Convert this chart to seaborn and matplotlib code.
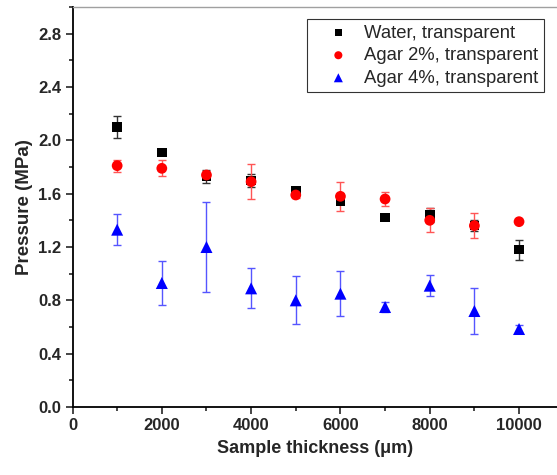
import numpy as np
import pandas as pd
import matplotlib
matplotlib.use("Agg")
import matplotlib.pyplot as plt
from matplotlib.ticker import MultipleLocator
import seaborn as sns

thickness = [1000, 2000, 3000, 4000, 5000, 6000, 7000, 8000, 9000, 10000]

water = [2.10, 1.91, 1.73, 1.70, 1.62, 1.54, 1.42, 1.44, 1.36, 1.18]
water_err = [0.08, 0.0, 0.05, 0.05, 0.03, 0.02, 0.0, 0.05, 0.04, 0.075]

agar2 = [1.81, 1.79, 1.74, 1.69, 1.59, 1.58, 1.56, 1.40, 1.36, 1.39]
agar2_err = [0.045, 0.06, 0.03, 0.13, 0.02, 0.11, 0.055, 0.09, 0.095, 0.0]

agar4 = [1.33, 0.93, 1.20, 0.89, 0.80, 0.85, 0.75, 0.91, 0.72, 0.585]
agar4_err = [0.115, 0.165, 0.34, 0.15, 0.18, 0.17, 0.04, 0.08, 0.17, 0.03]

labels = ["Water, transparent", "Agar 2%, transparent", "Agar 4%, transparent"]
yticks = [0.0, 0.4, 0.8, 1.2, 1.6, 2.0, 2.4, 2.8]

sns.set_theme(style="white")
plt.rcParams['font.family'] = ['Liberation Sans', 'DejaVu Sans']

df = pd.DataFrame({
    "x": thickness * 3,
    "y": water + agar2 + agar4,
    "err": water_err + agar2_err + agar4_err,
    "series": [labels[0]] * 10 + [labels[1]] * 10 + [labels[2]] * 10,
})

W, H = 557, 475
fig = plt.figure(figsize=(W / 100, H / 100), dpi=100)
ax = fig.add_axes([72.5 / W, 68 / H, (W - 72.5) / W, (407 - 7) / H])

colors = {labels[0]: "black", labels[1]: "#ff0000", labels[2]: "#0000ff"}
ecolors = {labels[0]: "#333333", labels[1]: "#ff5555", labels[2]: "#5555ff"}
markers = {labels[0]: "s", labels[1]: "o", labels[2]: "^"}
sizes = {labels[0]: 48, labels[1]: 60, labels[2]: 75}

for lab in labels:
    sub = df[df.series == lab]
    ax.errorbar(sub.x, sub.y, yerr=sub.err, fmt="none", ecolor=ecolors[lab],
                elinewidth=1.0, capsize=3, capthick=1.0, zorder=2)
    sns.scatterplot(data=sub, x="x", y="y", marker=markers[lab], color=colors[lab],
                    s=sizes[lab], edgecolor="none", linewidth=0, ax=ax,
                    label=lab, zorder=3)

ax.set_xlim(0, 10850)
ax.set_ylim(0, 3.0)
ax.xaxis.set_major_locator(MultipleLocator(2000))
ax.xaxis.set_minor_locator(MultipleLocator(1000))
ax.yaxis.set_minor_locator(MultipleLocator(0.2))
ax.set_yticks(yticks)
ax.set_yticklabels([f"{v:.1f}" for v in yticks])

ax.tick_params(axis="both", which="major", direction="out", length=5, width=1.2,
               labelsize=12, bottom=True, left=True, top=False, right=False, pad=3)
ax.tick_params(axis="both", which="minor", direction="out", length=3, width=1.2,
               bottom=True, left=True, top=False, right=False)
for lbl in ax.get_xticklabels() + ax.get_yticklabels():
    lbl.set_fontweight("bold")

for s in ["left", "bottom"]:
    ax.spines[s].set_color("black")
    ax.spines[s].set_linewidth(1.3)
ax.spines["right"].set_visible(False)
ax.spines["top"].set_color("#a0a0a0")
ax.spines["top"].set_linewidth(1.0)

ax.set_xlabel("Sample thickness (\u03bcm)", fontsize=13, fontweight="bold", labelpad=5)
ax.set_ylabel("Pressure (MPa)", fontsize=13.5, fontweight="bold", labelpad=4)

# legend box: x 302..544, y 19..93 in figure pixels
leg = ax.legend(loc="upper right",
                bbox_to_anchor=((544 - 72.5) / (W - 72.5), (407 - 19) / 400),
                frameon=True, fancybox=False, fontsize=13.3, handletextpad=0.0,
                borderpad=0.3, labelspacing=0.3, handlelength=2.8, borderaxespad=0,
                markerscale=0.75)
leg.get_frame().set_edgecolor("black")
leg.get_frame().set_linewidth(0.8)

fig.savefig("out.png", dpi=100)
